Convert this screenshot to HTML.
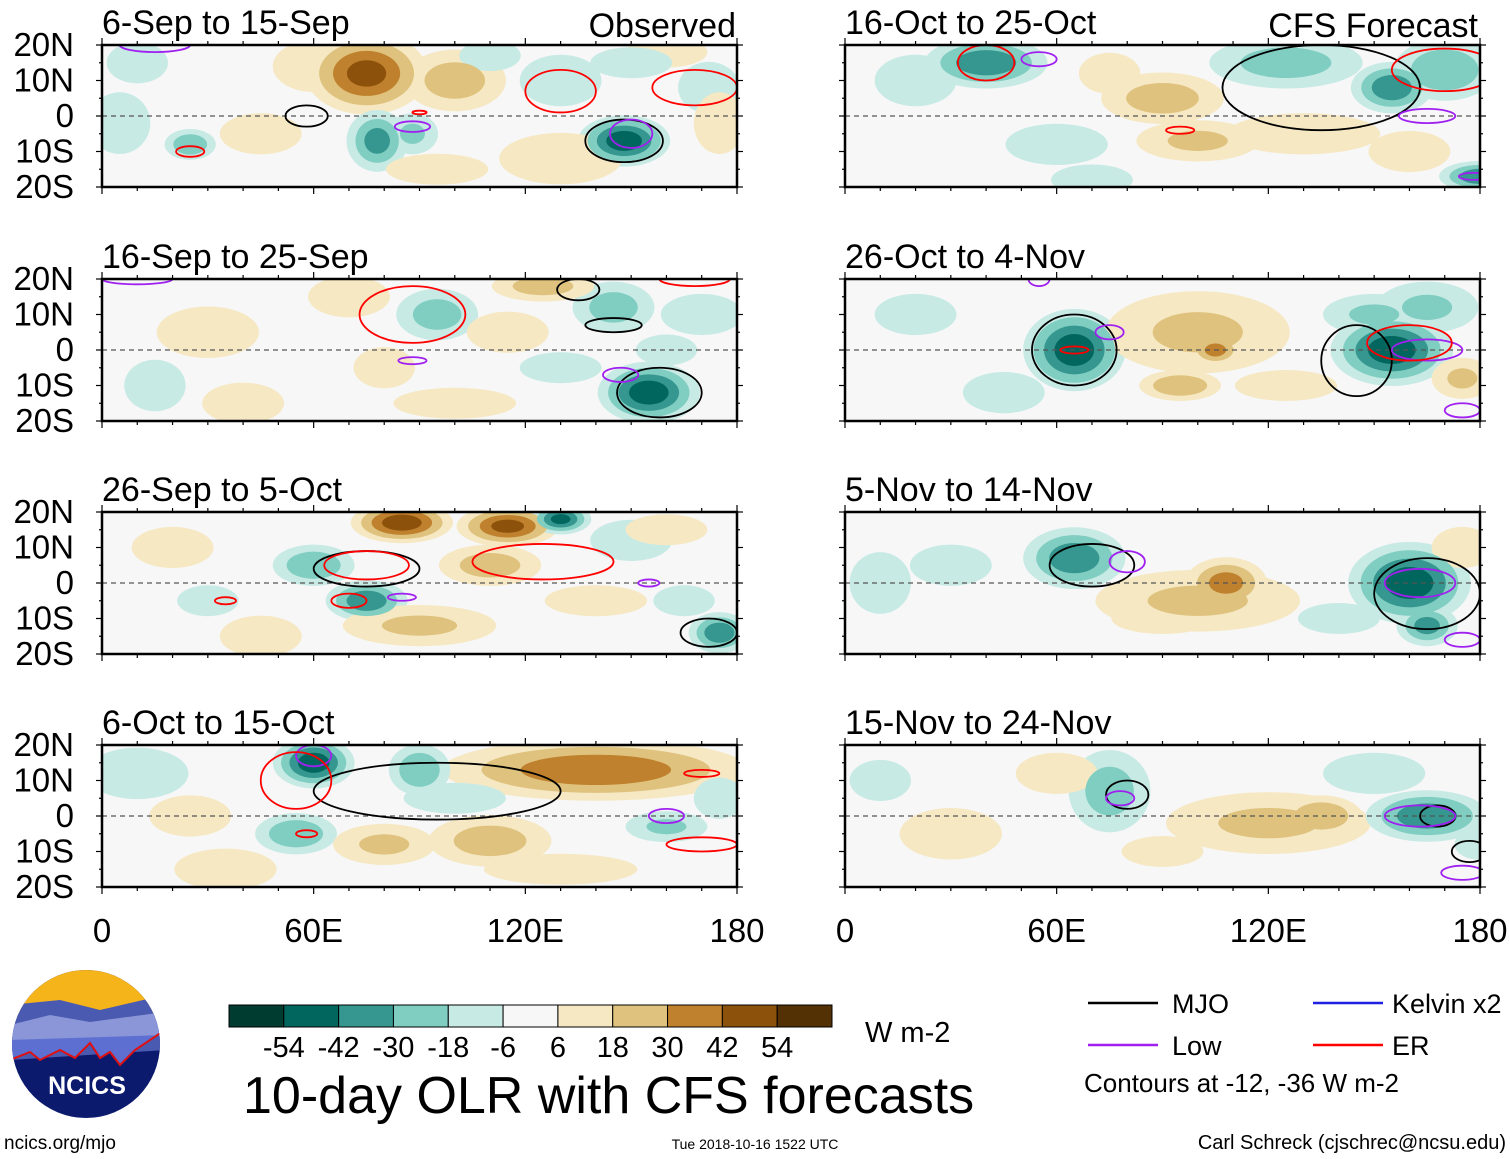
<!DOCTYPE html>
<html><head><meta charset="utf-8">
<style>
html,body{margin:0;padding:0;background:#fff;}
svg{display:block;font-family:"Liberation Sans",sans-serif;}
</style></head>
<body>
<svg id="chart" width="1510" height="1159" viewBox="0 0 1510 1159" xmlns="http://www.w3.org/2000/svg">
</svg>
<script>
// ---- data ----
const panelTitles = ["6-Sep to 15-Sep","16-Sep to 25-Sep","26-Sep to 5-Oct","6-Oct to 15-Oct","16-Oct to 25-Oct","26-Oct to 4-Nov","5-Nov to 14-Nov","15-Nov to 24-Nov"];
const latTicks = ["20N","10N","0","10S","20S"];
const latValues = [20,10,0,-10,-20];
const lonTicks = ["0","60E","120E","180"];
const lonValues = [0,60,120,180];
const cbarLabels = ["-54","-42","-30","-18","-6","6","18","30","42","54"];
const cbarColors = ["#003c30","#01665e","#35978f","#80cdc1","#c7eae5","#f7f7f7","#f6e8c3","#dfc27d","#bf812d","#8c510a","#543005"];
// anomaly blobs per panel: [lon, lat, lonRadius, latRadius, value]
const blobs1 = [[75,12,12,8,45],[100,10,10,6,25],[60,14,8,5,15],[78,-7,6,6,-35],[88,-5,5,4,-20],[148,-7,9,5,-50],[130,10,8,5,-15],[172,8,6,5,-15],[10,15,6,4,-15],[25,-8,5,3,-30],[130,-12,12,5,15],[160,18,8,3,15],[45,-5,8,4,10],[5,-2,6,6,-12],[110,17,6,3,-12],[150,15,8,3,-12],[95,-15,10,3,10],[175,-2,5,6,10]];
const blobs2 = [[155,-12,10,6,-50],[145,12,8,5,-25],[95,10,8,5,-25],[125,18,10,3,25],[115,5,8,4,15],[40,-15,8,4,15],[100,-15,12,3,15],[160,0,6,3,-15],[30,5,10,5,10],[80,-5,6,4,10],[70,15,8,4,12],[170,10,8,4,-12],[15,-10,6,5,-10],[130,-5,8,3,-10]];
const blobs3 = [[85,17,10,4,50],[115,16,10,4,45],[130,18,6,3,-45],[75,-5,8,4,-40],[60,5,8,4,-30],[110,5,10,4,25],[90,-12,15,4,20],[175,-14,6,4,-40],[150,12,8,4,-15],[30,-5,6,3,-15],[140,-5,10,3,15],[165,-5,6,3,-15],[20,10,8,4,10],[160,15,8,3,10],[45,-15,8,4,10]];
const blobs4 = [[60,15,8,5,-50],[140,13,30,6,40],[90,13,6,5,-30],[55,-5,8,4,-30],[80,-8,10,4,20],[110,-7,12,5,25],[160,-3,8,3,-20],[10,12,10,5,-15],[130,-15,15,3,15],[35,-15,10,4,15],[25,0,8,4,10],[100,5,10,3,-12],[175,5,5,4,-10]];
const blobs5 = [[40,15,12,5,-40],[90,5,12,5,25],[100,-7,12,4,20],[125,15,15,5,-25],[155,8,8,5,-40],[170,13,10,6,-30],[130,-5,15,4,15],[60,-8,10,4,-15],[180,-17,8,3,-40],[70,-18,8,3,-15],[20,10,8,5,-12],[75,12,6,4,12],[160,-10,8,4,10]];
const blobs6 = [[65,0,10,8,-50],[100,5,18,8,20],[105,0,5,3,35],[95,-10,8,3,30],[155,0,12,7,-50],[150,10,10,4,-20],[175,-8,6,4,20],[20,10,8,4,-15],[165,12,10,5,-20],[45,-12,8,4,-12],[125,-10,10,3,10]];
const blobs7 = [[65,7,10,6,-40],[108,0,8,5,35],[100,-5,20,6,20],[160,0,12,8,-50],[165,-12,6,4,-35],[140,-10,8,3,-15],[30,5,8,4,-15],[90,-10,10,3,15],[10,0,6,6,-10],[175,10,6,4,10]];
const blobs8 = [[75,7,8,8,-25],[120,-2,20,6,20],[135,0,8,4,30],[165,0,12,5,-40],[30,-5,10,5,10],[90,-10,8,3,15],[180,-8,5,3,-15],[60,12,8,4,10],[150,12,10,4,-10],[10,10,6,4,-10]];
const blobsAll = [blobs1,blobs2,blobs3,blobs4,blobs5,blobs6,blobs7,blobs8];
// contours per panel: [lon, lat, lonRadius, latRadius]
const mjo = [[[148,-7,11,6],[58,0,6,3]],[[158,-12,12,7],[135,17,6,3],[145,7,8,2]],[[75,4,15,5],[172,-14,8,4]],[[95,7,35,8]],[[135,8,28,12]],[[65,0,12,10],[145,-3,10,10]],[[70,5,12,6],[165,-3,15,10]],[[80,6,6,4],[168,0,5,3],[177,-10,5,3]]];
const low = [[[150,-5,6,4],[88,-3,5,1.5],[15,20,10,2]],[[147,-7,5,2],[88,-3,4,1],[10,20,10,1.5]],[[85,-4,4,1],[155,0,3,1]],[[60,17,5,3],[160,0,5,2]],[[55,16,5,2],[165,0,8,2],[178,-17,4,1]],[[75,5,4,2],[165,0,10,3],[175,-17,5,2],[55,20,3,2]],[[80,6,5,3],[163,0,10,4],[175,-16,5,2]],[[78,5,4,2],[163,0,10,3],[175,-16,6,2]]];
const er = [[[130,7,10,6],[168,8,12,5],[25,-10,4,1.5],[90,1,2,0.5]],[[88,10,15,8],[168,20,10,2]],[[75,5,12,4],[70,-5,5,2],[125,6,20,5],[35,-5,3,1]],[[55,10,10,8],[170,12,5,1],[170,-8,10,2],[58,-5,3,1]],[[40,15,8,5],[95,-4,4,1],[170,13,15,6]],[[65,0,4,1],[160,2,12,5]],[],[]];

// ---- layout ----
const NS="http://www.w3.org/2000/svg";
const svg=document.getElementById('chart');
function el(tag,attrs,parent){const e=document.createElementNS(NS,tag);for(const k in attrs)e.setAttribute(k,attrs[k]);(parent||svg).appendChild(e);return e;}
const colX=[102,845], rowY=[45,279,512,745], PW=635, PH=142;
const levels=[6,18,30,42,54];
const SPREAD=1.45;
function colorFor(v,l){const i=levels.indexOf(l);return v>0?cbarColors[6+i]:cbarColors[4-i];}

for(let p=0;p<8;p++){
  const x0=colX[p<4?0:1], y0=rowY[p%4];
  const xs=lon=>x0+lon/180*PW, ys=lat=>y0+(20-lat)/40*PH;
  const g=el('g',{});
  
  
  const cid='clip'+p;
  const cp=el('clipPath',{id:cid},g);el('rect',{x:x0,y:y0,width:PW,height:PH},cp);
  const inner=el('g',{'clip-path':'url(#'+cid+')'},g);
  el('rect',{x:x0,y:y0,width:PW,height:PH,fill:'#f7f7f7'},inner);
  const b=blobsAll[p];
  levels.forEach(l=>{
    b.forEach(d=>{
      const v=d[4],a=Math.abs(v);
      if(a<=l)return;
      const s=SPREAD*(1-0.85*(l-6)/a);
      const e=el('ellipse',{cx:xs(d[0]),cy:ys(d[1]),rx:d[2]*s*PW/180,ry:d[3]*s*PH/40,fill:colorFor(v,l)},inner);
      
      
    });
  });
  el('line',{x1:x0,y1:ys(0),x2:x0+PW,y2:ys(0),stroke:'#555','stroke-dasharray':'5,4','stroke-width':1.2},inner);
  [[mjo,'#000'],[low,'#a020f0'],[er,'#f00']].forEach(([arr,c])=>{
    arr[p].forEach(d=>{
      const e=el('ellipse',{cx:xs(d[0]),cy:ys(d[1]),rx:d[2]*PW/180,ry:d[3]*PH/40,fill:'none',stroke:c,'stroke-width':1.8},inner);
      
      
    });
  });
  el('rect',{x:x0,y:y0,width:PW,height:PH,fill:'none',stroke:'#000','stroke-width':2.5},g);
  for(let lon=0;lon<=180;lon+=10){
    const m=lon%60===0?7:4;
    el('line',{x1:xs(lon),y1:y0,x2:xs(lon),y2:y0-m,stroke:'#000','stroke-width':1.2},g);
    el('line',{x1:xs(lon),y1:y0+PH,x2:xs(lon),y2:y0+PH+m,stroke:'#000','stroke-width':1.2},g);
  }
  for(let lat=-20;lat<=20;lat+=5){
    const m=lat%10===0?6:3;
    el('line',{x1:x0,y1:ys(lat),x2:x0-m,y2:ys(lat),stroke:'#000','stroke-width':1.2},g);
    el('line',{x1:x0+PW,y1:ys(lat),x2:x0+PW+m,y2:ys(lat),stroke:'#000','stroke-width':1.2},g);
  }
  const t=el('text',{x:x0,y:y0-11,'font-size':34},g);t.textContent=panelTitles[p];
  
  
  if(p<4){
    latValues.forEach((lat,i)=>{
      const tt=el('text',{x:74,y:ys(lat)+11,'font-size':33,'text-anchor':'end'},g);tt.textContent=latTicks[i];
      
      
    });
  }
  if(p%4===3){
    lonValues.forEach((lon,i)=>{
      const tt=el('text',{x:xs(lon),y:942,'font-size':33,'text-anchor':'middle'},g);tt.textContent=lonTicks[i];
      
      
    });
  }
}
let t=el('text',{x:736,y:37,'font-size':34,'text-anchor':'end'});t.textContent='Observed';

t=el('text',{x:1478,y:37,'font-size':34,'text-anchor':'end'});t.textContent='CFS Forecast';


// colorbar
const cbx=229,cbw=603/11;
const cb=el('g',{});
cbarColors.forEach((c,i)=>{
  const r=el('rect',{x:cbx+i*cbw,y:1005,width:cbw,height:22,fill:c,stroke:'#000','stroke-width':1},cb);
  
});
cbarLabels.forEach((s,i)=>{
  const tt=el('text',{x:cbx+(i+1)*cbw,y:1057,'font-size':29,'text-anchor':'middle'},cb);tt.textContent=s;
  
});
t=el('text',{x:865,y:1042,'font-size':29});t.textContent='W m-2';

t=el('text',{x:243,y:1113,'font-size':52});t.textContent='10-day OLR with CFS forecasts';


// legend
const lg=el('g',{});
[['MJO','#000',1088,1003,1172],['Low','#a020f0',1088,1045,1172],['Kelvin x2','#2020e0',1313,1003,1392],['ER','#f00',1313,1045,1392]].forEach(d=>{
  el('line',{x1:d[2],y1:d[3],x2:d[2]+70,y2:d[3],stroke:d[1],'stroke-width':2.5},lg);
  const tt=el('text',{x:d[4],y:d[3]+10,'font-size':27},lg);tt.textContent=d[0];
  
});
t=el('text',{x:1084,y:1092,'font-size':26});t.textContent='Contours at -12, -36 W m-2';

t=el('text',{x:4,y:1149,'font-size':19});t.textContent='ncics.org/mjo';

t=el('text',{x:755,y:1149,'font-size':14,'text-anchor':'middle'});t.textContent='Tue 2018-10-16 1522 UTC';

t=el('text',{x:1506,y:1149,'font-size':20,'text-anchor':'end'});t.textContent='Carl Schreck (cjschrec@ncsu.edu)';


// logo
const lo=el('g',{});
const lcp=el('clipPath',{id:'logoclip'},lo);el('circle',{cx:86,cy:1044,r:74},lcp);
const li=el('g',{'clip-path':'url(#logoclip)'},lo);
el('rect',{x:10,y:968,width:155,height:155,fill:'#0c1a6e'},li);
el('rect',{x:10,y:968,width:155,height:45,fill:'#f5b41a'},li);
el('path',{d:'M10 1005 L60 1000 L100 1010 L165 995 L165 1050 L10 1060 Z',fill:'#4a5ab0'},li);
el('path',{d:'M10 1025 L50 1015 L90 1022 L165 1012 L165 1035 L10 1045 Z',fill:'#8a96d8'},li);
el('path',{d:'M10 1060 L30 1052 L40 1060 L60 1050 L75 1058 L90 1043 L100 1058 L110 1052 L120 1065 L135 1050 L165 1030 L165 1035 L10 1040 Z',fill:'#5d6fd0'},li);
el('path',{d:'M10 1060 L30 1052 L40 1060 L60 1050 L75 1058 L90 1043 L100 1058 L110 1052 L120 1065 L135 1050 L165 1030',fill:'none',stroke:'#e01010','stroke-width':2},li);
t=el('text',{x:87,y:1094,'font-size':25,'font-weight':'bold',fill:'#fff','text-anchor':'middle'},lo);t.textContent='NCICS';

</script>
</body></html>
